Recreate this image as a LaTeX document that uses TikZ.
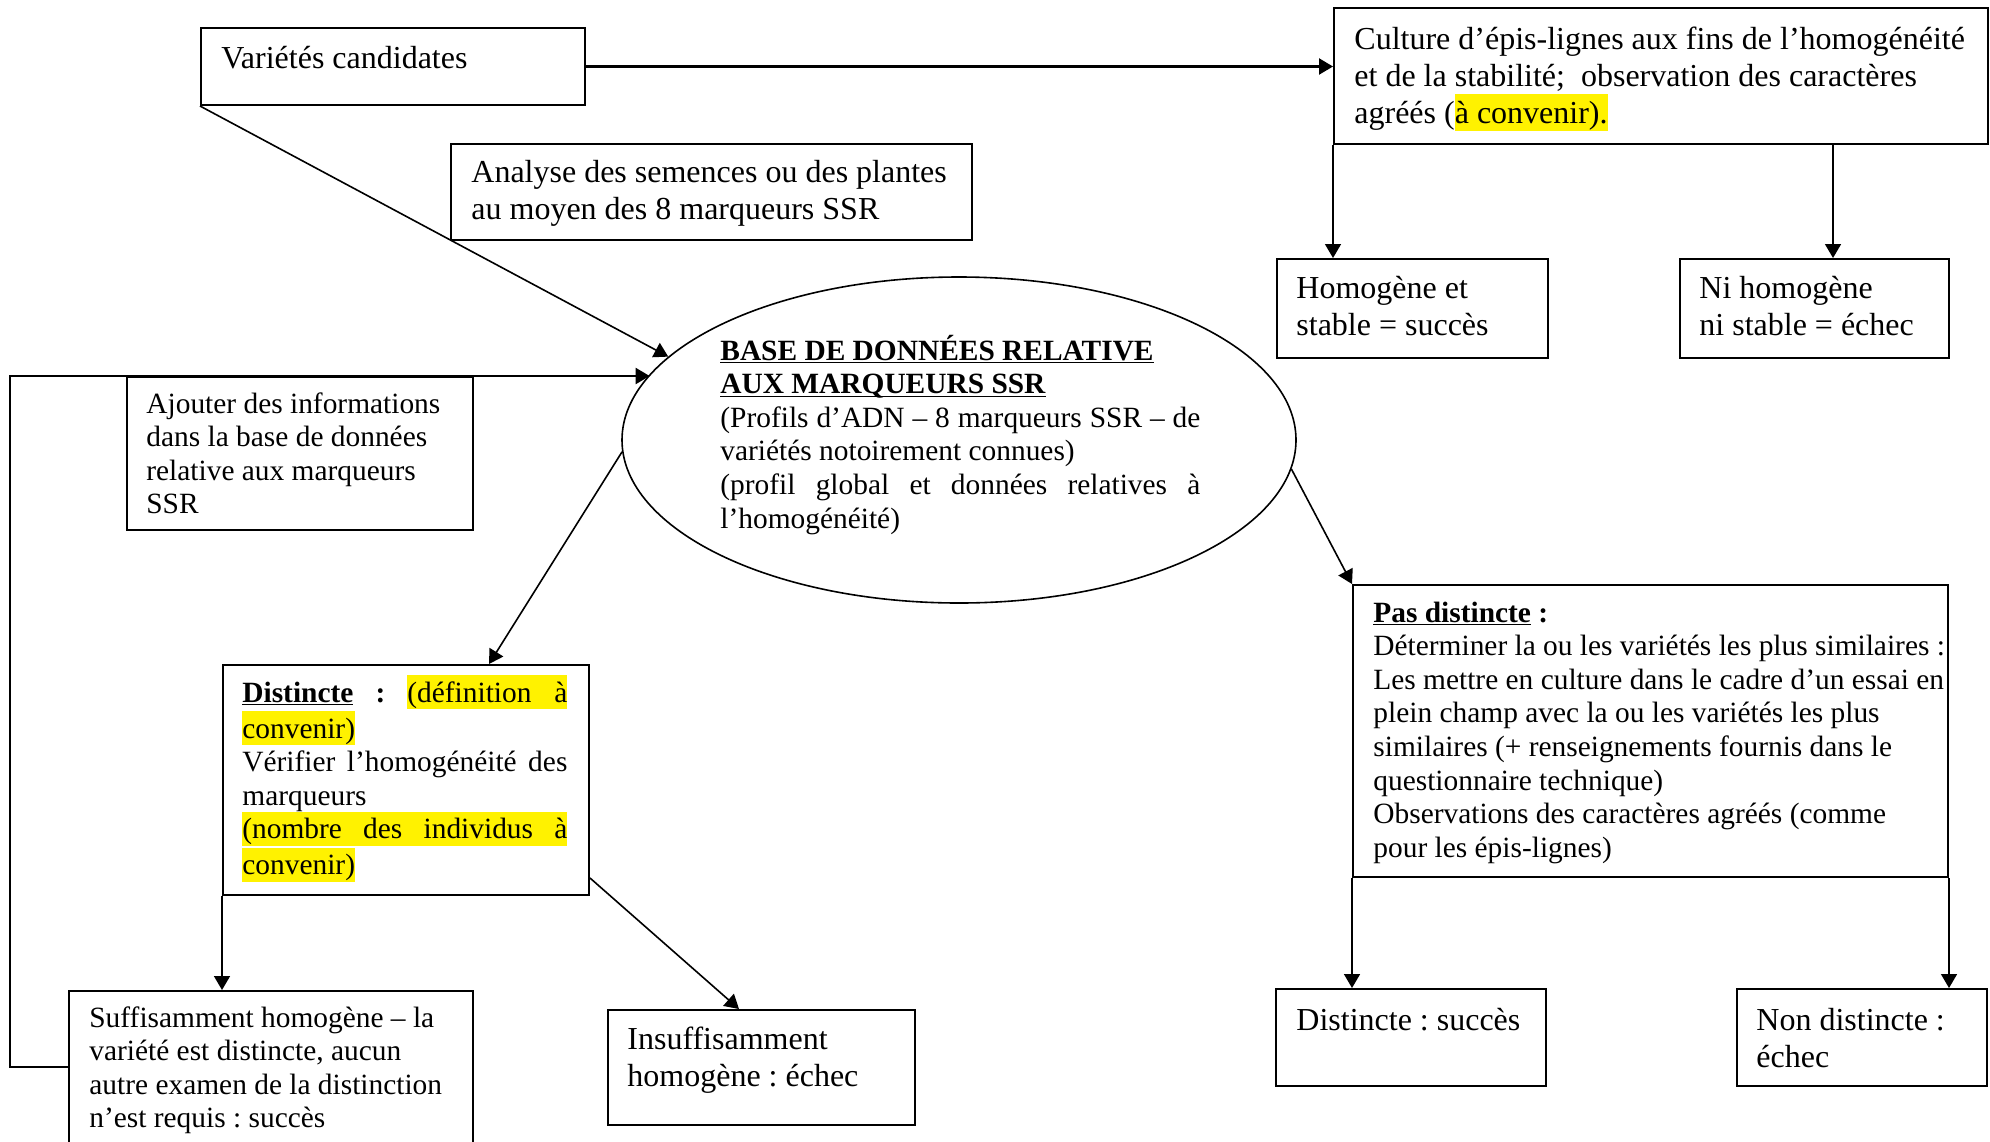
\documentclass[tikz,border=0pt]{standalone}
\usepackage{fontspec}
\setmainfont{Liberation Serif}
\usetikzlibrary{arrows.meta,shapes.geometric,calc}
\frenchspacing
\newcommand{\fA}{\fontsize{16pt}{18.6pt}\selectfont\spaceskip=0pt\xspaceskip=0pt\relax}
\newcommand{\fB}{\fontsize{14.7pt}{16.8pt}\selectfont\spaceskip=0pt\xspaceskip=0pt\relax}
\newcommand{\hlA}[1]{{\setlength{\fboxsep}{0pt}\colorbox{yellow}{\rule[-4pt]{0pt}{18.5pt}#1}}}
\newcommand{\hlB}[1]{{\setlength{\fboxsep}{0pt}\colorbox{yellow}{\rule[-3.5pt]{0pt}{17pt}#1}}}
\newcommand{\js}[1]{\makebox[\hsize][s]{\spaceskip=.25em plus 1fil\relax #1}}
\newcommand{\ulb}[1]{\underline{\setbox0\hbox{\textbf{#1}}\dp0=0pt\box0}}
\tikzset{
  box/.style={draw, line width=1pt, inner sep=0pt, anchor=north west},
  txt/.style={anchor=base west, inner sep=0pt, execute at begin node={\spaceskip=0pt\xspaceskip=0pt\relax}},
  arr/.style={draw, line width=0.8pt, -{Triangle[length=7pt,width=8pt]}},
  thickarr/.style={arr, line width=1.1pt},
}
\begin{document}
\begin{tikzpicture}[x=0.5pt,y=-0.5pt]
\useasboundingbox (0,0) rectangle (1990,1141);
\clip (0,0) rectangle (1990,1141);
\fill[white] (0,0) rectangle (1990,1141);

% boxes
\node[box, minimum width=192pt, minimum height=38.5pt] (var) at (200,27) {};
\node[box, minimum width=327pt, minimum height=68pt] (cul) at (1333,7) {};
\node[box, minimum width=260.5pt, minimum height=48pt] (ana) at (450,143) {};
\node[box, minimum width=135.5pt, minimum height=49.5pt] (hom) at (1276,258) {};
\node[box, minimum width=134.5pt, minimum height=49.5pt] (ni) at (1679,258) {};
\node[box, minimum width=173pt, minimum height=76.5pt] (aj) at (126,376) {};
\node[draw, ellipse, line width=0.8pt, minimum width=337pt, minimum height=163pt, inner sep=0pt] (db) at (959,440) {};
\node[box, minimum width=183pt, minimum height=115pt] (dis) at (222,664) {};
\node[box, minimum width=297.5pt, minimum height=146pt] (pd) at (1352,584) {};
\node[box, minimum width=202pt, minimum height=90pt] (suf) at (68,990) {};
\node[box, minimum width=153.5pt, minimum height=57.5pt] (ins) at (607,1009) {};
\node[box, minimum width=135pt, minimum height=48.5pt] (ds) at (1275,988) {};
\node[box, minimum width=125pt, minimum height=48.5pt] (nd) at (1736,988) {};

% texts
\node[txt, font=\fA, text width=180pt] (vart) at (221,68) {Variétés candidates};
\node[txt, font=\fA, text width=320pt] (cult) at (1354,49) {Culture d’épis-lignes aux fins de l’homogénéité\\
et de la stabilité;~ observation des caractères\\
agréés (\hlA{à convenir).}};
\node[txt, font=\fA, text width=255pt] (anat) at (471,182) {Analyse des semences ou des plantes\\au moyen des 8 marqueurs SSR};
\node[txt, font=\fA, text width=125pt] (homt) at (1296,298) {Homogène et\\stable = succès};
\node[txt, font=\fA, text width=125pt] (nit) at (1699,298) {Ni homogène\\ni stable = échec};
\node[txt, font=\fB, text width=165pt] (ajt) at (146,413) {Ajouter des informations\\dans la base de données\\relative aux marqueurs\\SSR};
\node[txt, font=\fB, text width=240pt] (dbt) at (720,360) {%
\ulb{BASE DE DONNÉES RELATIVE}\\
\ulb{AUX MARQUEURS SSR}\\
\js{(Profils d’ADN – 8 marqueurs SSR – de}\\
variétés notoirement connues)\\
\js{(profil global et données relatives à}\\
l’homogénéité)};
\node[txt, font=\fB, text width=162.5pt] (dist) at (242,702) {%
\js{\ulb{Distincte}\hfill\textbf{:}\hfill\hlB{\makebox[80pt][s]{(définition à}}}\\
\hlB{convenir)}\\
\js{Vérifier l’homogénéité des}\\
marqueurs\\
\hlB{\js{(nombre des individus à}}\\
\hlB{convenir)}};
\node[txt, font=\fB, text width=320pt] (pdt) at (1373,622) {%
\ulb{Pas distincte} \textbf{:}\\
Déterminer la ou les variétés les plus similaires :\\
Les mettre en culture dans le cadre d’un essai en\\
plein champ avec la ou les variétés les plus\\
similaires (+ renseignements fournis dans le\\
questionnaire technique)\\
Observations des caractères agréés (comme\\
pour les épis-lignes)};
\node[txt, font=\fB, text width=195pt] (suft) at (89,1027) {Suffisamment homogène – la\\variété est distincte, aucun\\autre examen de la distinction\\n’est requis : succès};
\node[txt, font=\fA, text width=145pt] (inst) at (627,1049) {Insuffisamment\\homogène : échec};
\node[txt, font=\fA, text width=125pt] (dst) at (1296,1030) {Distincte : succès};
\node[txt, font=\fA, text width=115pt] (ndt) at (1756,1030) {Non distincte :\\échec};

% connectors
\draw[thickarr] (var.east) -- (var.east -| cul.west);
\draw[arr] (var.south west) -- (db.164);
\coordinate (lp) at (10,376);
\coordinate (sufL) at ($(suf.north west)+(0,77)$);
\draw[thickarr] (sufL) -| (lp) -- (lp -| db.168);
\draw[arr] (db.182) -- ($(dis.north west)+(267,0)$);
\draw[arr] (dis.south west) -- (dis.south west |- suf.north);
\draw[arr] ($(dis.south east)+(0,-18)$) -- ($(ins.north west)+(132,0)$);
\draw[arr] (db.-5) -- (pd.north west);
\draw[arr] (cul.south west) -- (cul.south west |- hom.north);
\coordinate (cul2) at ($(cul.south west)+(500,0)$);
\draw[arr] (cul2) -- (cul2 |- ni.north);
\draw[arr] (pd.south west) -- (pd.south west |- ds.north);
\draw[arr] (pd.south east) -- (pd.south east |- nd.north);
\end{tikzpicture}
\end{document}
